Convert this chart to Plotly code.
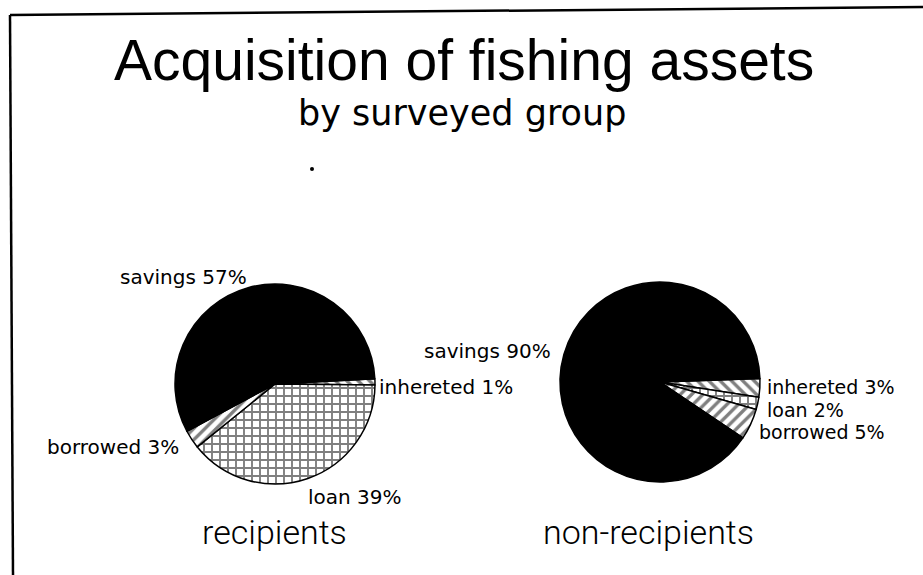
import plotly.graph_objects as go

# Sources of fishing assets, listed clockwise from 3 o'clock
categories = ["inhereted", "loan", "borrowed", "savings"]
recipients = [1, 39, 3, 57]
non_recipients = [3, 2, 5, 90]
group_names = ["recipients", "non-recipients"]

title_text = "Acquisition of fishing assets"
subtitle_text = "by surveyed group"

W, H = 923, 575


def px(x):
    return x / W


def py(y):
    return 1 - y / H


slice_fill = ["white", "white", "white", "black"]
slice_hatch = ["\\", "+", "/", ""]

fig = go.Figure()


def add_pie(values, x0, x1, y0, y1, rot):
    fig.add_trace(go.Pie(
        labels=categories,
        values=values,
        sort=False,
        direction="clockwise",
        rotation=rot,
        textinfo="none",
        hoverinfo="skip",
        showlegend=False,
        domain=dict(x=[px(x0), px(x1)], y=[py(y1), py(y0)]),
        marker=dict(
            colors=slice_fill,
            line=dict(color="black", width=1.5),
            pattern=dict(shape=slice_hatch, fgcolor="black",
                         size=8, solidity=0.42, fillmode="overlay"),
        ),
    ))


add_pie(recipients, 175, 375, 284, 484, 87)
add_pie(non_recipients, 560, 760, 282, 482, 88)


def label(text, x, y, anchor, size=20):
    fig.add_annotation(text=text, x=px(x), y=py(y), xref="paper", yref="paper",
                       xanchor=anchor, yanchor="middle", showarrow=False,
                       font=dict(family="DejaVu Sans", size=size, color="black"))


def slice_text(i, values):
    return f"{categories[i]} {values[i]}%"


# recipients labels
label(slice_text(3, recipients), 249, 277, "right")
label(slice_text(0, recipients), 377, 387, "left")
label(slice_text(2, recipients), 181, 447, "right")
label(slice_text(1, recipients), 306, 497, "left")

# non-recipients labels (stacked beside the thin slices)
label(slice_text(3, non_recipients), 553, 351, "right")
label(slice_text(0, non_recipients), 765, 387, "left", 19)
label(slice_text(1, non_recipients), 765, 409.5, "left", 19)
label(slice_text(2, non_recipients), 757, 432, "left", 19)

# group names under each pie
group_font = dict(family="Roboto", size=34, color="black", weight=300)
fig.add_annotation(text=group_names[0], x=px(274), y=py(532), xref="paper", yref="paper",
                   xanchor="center", yanchor="middle", showarrow=False, font=group_font)
fig.add_annotation(text=group_names[1], x=px(648), y=py(532), xref="paper", yref="paper",
                   xanchor="center", yanchor="middle", showarrow=False, font=group_font)

# title and subtitle
fig.add_annotation(text=title_text, x=px(464), y=py(82), xref="paper", yref="paper",
                   xanchor="center", yanchor="bottom", yshift=-12, showarrow=False,
                   font=dict(family="Liberation Sans", size=57, color="black"))
fig.add_annotation(text=subtitle_text, x=px(462), y=py(127), xref="paper", yref="paper",
                   xanchor="center", yanchor="bottom", yshift=-8, showarrow=False,
                   font=dict(family="DejaVu Sans", size=35, color="black"))

# frame along the top and left edges, plus the stray dot
fig.add_shape(type="line", x0=px(10), y0=py(15), x1=px(923), y1=py(7),
              xref="paper", yref="paper", line=dict(color="black", width=2.5))
fig.add_shape(type="line", x0=px(10), y0=py(15), x1=px(13), y1=py(575),
              xref="paper", yref="paper", line=dict(color="black", width=2.5))
fig.add_shape(type="circle", x0=px(310), y0=py(167), x1=px(314), y1=py(171),
              xref="paper", yref="paper", fillcolor="black", line=dict(width=0))

fig.update_layout(
    width=W, height=H,
    margin=dict(l=0, r=0, t=0, b=0),
    paper_bgcolor="white",
    plot_bgcolor="white",
)

fig.write_html("out.html")
